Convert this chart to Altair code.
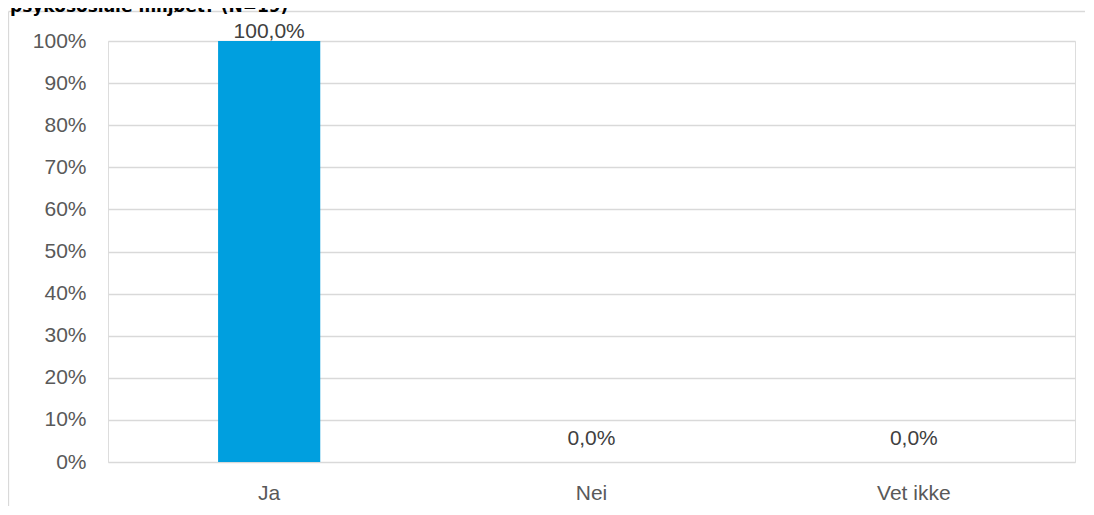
import altair as alt
import pandas as pd

categories = ["Ja", "Nei", "Vet ikke"]
values = [1.0, 0.0, 0.0]
title_text = "psykososiale miljøet? (N=19)"
y_ticks = [0, 0.1, 0.2, 0.3, 0.4, 0.5, 0.6, 0.7, 0.8, 0.9, 1.0]

df = pd.DataFrame({"kategori": categories, "andel": values})

W, H = 967, 421
LABEL_FONT = "Liberation Sans, Arial, sans-serif"

x_enc = alt.X(
    "kategori:N",
    sort=categories,
    scale=alt.Scale(paddingInner=0.683, paddingOuter=0.3415),
    axis=alt.Axis(
        title=None, labelAngle=0, domain=False, ticks=False, grid=False,
        labelFont=LABEL_FONT, labelFontSize=21, labelColor="#595959",
        labelPadding=20,
    ),
)
y_enc = alt.Y(
    "andel:Q",
    scale=alt.Scale(domain=[0, 1], nice=False),
    axis=alt.Axis(
        title=None, values=y_ticks, format=".0%", domain=False, ticks=False,
        grid=True, gridColor="#d9d9d9", gridWidth=1.3,
        labelFont=LABEL_FONT, labelFontSize=21, labelColor="#595959",
        labelPadding=22,
    ),
)

base = alt.Chart(df)

bars = base.mark_bar(color="#009FDF").encode(x=x_enc, y=y_enc)

labels_pos = base.transform_filter("datum.andel > 0").transform_calculate(
    lbl="replace(format(datum.andel, '.1%'), '.', ',')"
).mark_text(
    font=LABEL_FONT, fontSize=21, color="#404040", baseline="alphabetic", dy=-3
).encode(x=alt.X("kategori:N", sort=categories), y="andel:Q", text="lbl:N")

labels_zero = base.transform_filter("datum.andel <= 0").transform_calculate(
    lbl="replace(format(datum.andel, '.1%'), '.', ',')"
).mark_text(
    font=LABEL_FONT, fontSize=21, color="#404040", baseline="alphabetic", dy=-17
).encode(x=alt.X("kategori:N", sort=categories), y="andel:Q", text="lbl:N")

border_top = alt.Chart(df.head(1)).mark_rule(color="#d9d9d9", strokeWidth=1.3).encode(
    x=alt.value(-99.5), x2=alt.value(W + 20), y=alt.value(-29.5)
)
border_left = alt.Chart(df.head(1)).mark_rule(color="#d9d9d9", strokeWidth=1.3).encode(
    x=alt.value(-99.5), y=alt.value(-29.5), y2=alt.value(H + 60)
)

title = alt.Chart(df.head(1)).mark_text(
    text=title_text, font="DejaVu Sans", fontWeight="bold", fontSize=17,
    color="#000000", align="left", baseline="alphabetic",
).encode(x=alt.value(-98), y=alt.value(-29))

chart = alt.layer(border_top, border_left, bars, labels_pos, labels_zero, title).properties(
    width=W,
    height=H,
    autosize=alt.AutoSizeParams(type="none"),
    padding={"left": 100, "top": 33, "right": 10, "bottom": 44},
).configure_view(stroke=None).configure(background="#ffffff")

chart.save("out.html", embed_options={"renderer": "svg", "actions": False})
